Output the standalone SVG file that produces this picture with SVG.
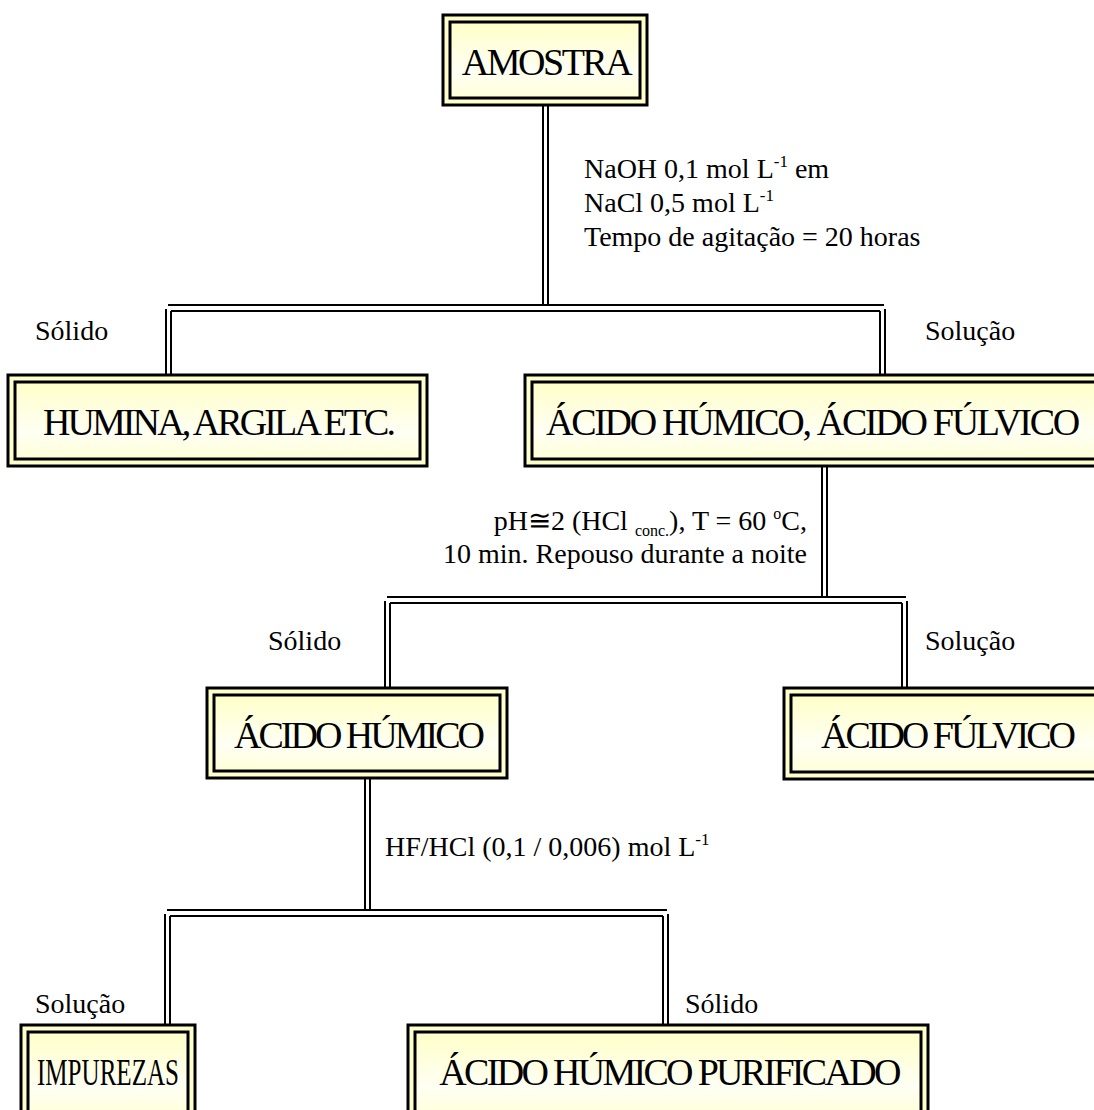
<svg xmlns="http://www.w3.org/2000/svg" width="1094" height="1110" viewBox="0 0 1094 1110">
<defs>
<linearGradient id="fillg" x1="0" y1="0" x2="0" y2="1">
<stop offset="0" stop-color="#ffffc8"/>
<stop offset="0.65" stop-color="#fffff4"/>
<stop offset="1" stop-color="#ffffd8"/>
</linearGradient>
<style>
.outer{fill:#ffffcc;stroke:#000;stroke-width:3}
.inner{fill:url(#fillg);stroke:#000;stroke-width:3}
.title{font-family:"Liberation Serif","Times New Roman",serif;font-size:38px;fill:#000;text-anchor:middle}
.lbl{font-family:"Liberation Serif","Times New Roman",serif;font-size:28px;fill:#000}
.ln{stroke:#000;stroke-width:2;fill:none}
</style>
</defs>
<rect width="1094" height="1110" fill="#fff"/>

<g id="connectors">
<line class="ln" x1="543" y1="106" x2="543" y2="305"/>
<line class="ln" x1="548" y1="106" x2="548" y2="305"/>
<line class="ln" x1="168" y1="305" x2="884" y2="305"/>
<line class="ln" x1="171" y1="311" x2="880" y2="311"/>
<line class="ln" x1="166" y1="309" x2="166" y2="374"/>
<line class="ln" x1="171" y1="311" x2="171" y2="374"/>
<line class="ln" x1="880" y1="311" x2="880" y2="374"/>
<line class="ln" x1="885" y1="309" x2="885" y2="374"/>
<line class="ln" x1="822" y1="466" x2="822" y2="597"/>
<line class="ln" x1="827" y1="466" x2="827" y2="597"/>
<line class="ln" x1="387" y1="597" x2="906" y2="597"/>
<line class="ln" x1="390" y1="603" x2="902" y2="603"/>
<line class="ln" x1="385" y1="601" x2="385" y2="688"/>
<line class="ln" x1="390" y1="603" x2="390" y2="688"/>
<line class="ln" x1="902" y1="603" x2="902" y2="688"/>
<line class="ln" x1="907" y1="601" x2="907" y2="688"/>
<line class="ln" x1="365" y1="778" x2="365" y2="910"/>
<line class="ln" x1="370" y1="778" x2="370" y2="910"/>
<line class="ln" x1="167" y1="910" x2="667" y2="910"/>
<line class="ln" x1="170" y1="916" x2="663" y2="916"/>
<line class="ln" x1="165" y1="914" x2="165" y2="1025"/>
<line class="ln" x1="170" y1="916" x2="170" y2="1025"/>
<line class="ln" x1="663" y1="916" x2="663" y2="1025"/>
<line class="ln" x1="668" y1="914" x2="668" y2="1025"/>
</g>

<g id="labels">
<text class="lbl" x="584" y="178">NaOH 0,1 mol L<tspan font-size="17" dy="-11">-1</tspan><tspan dy="11"> em</tspan></text>
<text class="lbl" x="584" y="212">NaCl 0,5 mol L<tspan font-size="17" dy="-11">-1</tspan></text>
<text class="lbl" x="584" y="246">Tempo de agitação = 20 horas</text>
<text class="lbl" x="35" y="340">Sólido</text>
<text class="lbl" x="925" y="340">Solução</text>
<text class="lbl" x="807" y="530" text-anchor="end">pH≅2 (HCl <tspan font-size="16" dy="6">conc.</tspan><tspan dy="-6">), T = 60 </tspan><tspan font-size="16" dy="-11">o</tspan><tspan dy="11">C,</tspan></text>
<text class="lbl" x="807" y="563" text-anchor="end">10 min. Repouso durante a noite</text>
<text class="lbl" x="268" y="650">Sólido</text>
<text class="lbl" x="925" y="650">Solução</text>
<text class="lbl" x="385" y="856">HF/HCl (0,1 / 0,006) mol L<tspan font-size="17" dy="-11">-1</tspan></text>
<text class="lbl" x="35" y="1013">Solução</text>
<text class="lbl" x="685" y="1013">Sólido</text>
</g>

<g id="n-amostra">
<rect class="outer" x="443" y="15" width="204" height="90"/>
<rect class="inner" x="450" y="22" width="190" height="76"/>
<text class="title" x="546" y="75" letter-spacing="-2.5">AMOSTRA</text>
</g>

<g id="n-humina">
<rect class="outer" x="8" y="375" width="419" height="91"/>
<rect class="inner" x="15" y="382" width="405" height="77"/>
<text class="title" x="218" y="435" letter-spacing="-2.9">HUMINA, ARGILA ETC.</text>
</g>

<g id="n-humico-fulvico">
<rect class="outer" x="525" y="375" width="580" height="91"/>
<rect class="inner" x="532" y="382" width="566" height="77"/>
<text class="title" x="812" y="435" font-size="37" letter-spacing="-2.3">ÁCIDO HÚMICO, ÁCIDO FÚLVICO</text>
</g>

<g id="n-humico">
<rect class="outer" x="207" y="688" width="300" height="90"/>
<rect class="inner" x="214" y="695" width="286" height="76"/>
<text class="title" x="358" y="748" letter-spacing="-3">ÁCIDO HÚMICO</text>
</g>

<g id="n-fulvico">
<rect class="outer" x="784" y="688" width="320" height="91"/>
<rect class="inner" x="791" y="695" width="306" height="77"/>
<text class="title" x="947" y="748" letter-spacing="-3">ÁCIDO FÚLVICO</text>
</g>

<g id="n-impurezas">
<rect class="outer" x="21" y="1025" width="174" height="95"/>
<rect class="inner" x="28" y="1032" width="160" height="85"/>
<text class="title" x="108" y="1085" textLength="142" lengthAdjust="spacingAndGlyphs">IMPUREZAS</text>
</g>

<g id="n-purificado">
<rect class="outer" x="408" y="1025" width="520" height="95"/>
<rect class="inner" x="415" y="1032" width="506" height="85"/>
<text class="title" x="669" y="1085" letter-spacing="-2.7">ÁCIDO HÚMICO PURIFICADO</text>
</g>
</svg>
